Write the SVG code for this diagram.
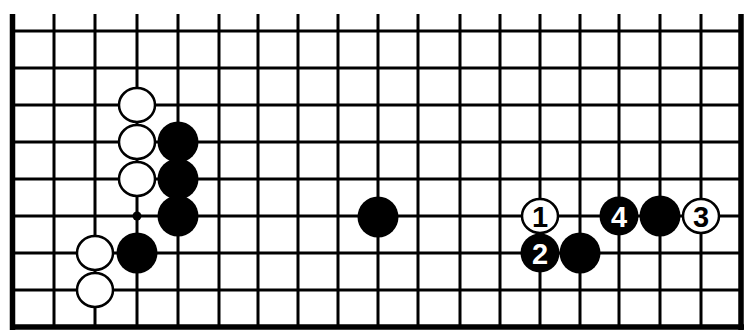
<svg xmlns="http://www.w3.org/2000/svg" width="744" height="332" viewBox="0 0 744 332">
<style>
.g line{stroke:#000;stroke-width:3;stroke-linecap:butt}
.g .edge{stroke-width:5.5}
.w{fill:#fff;stroke:#000;stroke-width:2.5}
.b{fill:#000}
.nw{font-family:"Liberation Sans",Arial,sans-serif;font-weight:bold;font-size:29px;text-anchor:middle;fill:#000}
.nb{font-family:"Liberation Sans",Arial,sans-serif;font-weight:bold;font-size:29px;text-anchor:middle;fill:#fff}
</style>
<rect width="744" height="332" fill="#fff"/>
<g id="grid" class="g">
<line x1="54" y1="14" x2="54" y2="327"/>
<line x1="95" y1="14" x2="95" y2="327"/>
<line x1="137" y1="14" x2="137" y2="327"/>
<line x1="178" y1="14" x2="178" y2="327"/>
<line x1="219" y1="14" x2="219" y2="327"/>
<line x1="258" y1="14" x2="258" y2="327"/>
<line x1="298" y1="14" x2="298" y2="327"/>
<line x1="338" y1="14" x2="338" y2="327"/>
<line x1="378" y1="14" x2="378" y2="327"/>
<line x1="418" y1="14" x2="418" y2="327"/>
<line x1="460" y1="14" x2="460" y2="327"/>
<line x1="500" y1="14" x2="500" y2="327"/>
<line x1="540" y1="14" x2="540" y2="327"/>
<line x1="580" y1="14" x2="580" y2="327"/>
<line x1="619" y1="14" x2="619" y2="327"/>
<line x1="660" y1="14" x2="660" y2="327"/>
<line x1="701" y1="14" x2="701" y2="327"/>
<line x1="12" y1="31" x2="741" y2="31"/>
<line x1="12" y1="68" x2="741" y2="68"/>
<line x1="12" y1="105" x2="741" y2="105"/>
<line x1="12" y1="142" x2="741" y2="142"/>
<line x1="12" y1="179" x2="741" y2="179"/>
<line x1="12" y1="216" x2="741" y2="216"/>
<line x1="12" y1="253" x2="741" y2="253"/>
<line x1="12" y1="290" x2="741" y2="290"/>
<line class="edge" x1="12.5" y1="14" x2="12.5" y2="330"/>
<line class="edge" x1="741" y1="14" x2="741" y2="330"/>
<line class="edge" x1="10" y1="327" x2="744" y2="327"/>
<circle cx="137" cy="216" r="4.5" fill="#000"/>
</g>
<g id="w1"><ellipse class="w" cx="137" cy="105" rx="18" ry="17"/></g>
<g id="w2"><ellipse class="w" cx="137" cy="142" rx="18" ry="17"/></g>
<g id="w3"><ellipse class="w" cx="137" cy="179" rx="18" ry="17"/></g>
<g id="w4"><ellipse class="w" cx="95" cy="253" rx="18" ry="17"/></g>
<g id="w5"><ellipse class="w" cx="95" cy="290" rx="18" ry="17"/></g>
<g id="b1"><circle class="b" cx="178" cy="142" r="20.5"/></g>
<g id="b2"><circle class="b" cx="178" cy="179" r="20.5"/></g>
<g id="b3"><circle class="b" cx="178" cy="216" r="20.5"/></g>
<g id="b4"><circle class="b" cx="137" cy="253" r="20.5"/></g>
<g id="b5"><circle class="b" cx="378" cy="217" r="20.5"/></g>
<g id="m1"><ellipse class="w" cx="540" cy="216" rx="18" ry="17"/><text class="nw" x="540" y="226.5">1</text></g>
<g id="m2"><circle class="b" cx="540" cy="253" r="19.5"/><text class="nb" x="540" y="263.5">2</text></g>
<g id="m3"><ellipse class="w" cx="701" cy="216" rx="18" ry="17"/><text class="nw" x="701" y="226.5">3</text></g>
<g id="m4"><circle class="b" cx="619" cy="216" r="19.5"/><text class="nb" x="619" y="226.5">4</text></g>
<g id="b6"><circle class="b" cx="660" cy="216" r="20.5"/></g>
<g id="b7"><circle class="b" cx="580" cy="253" r="20.5"/></g>
</svg>
